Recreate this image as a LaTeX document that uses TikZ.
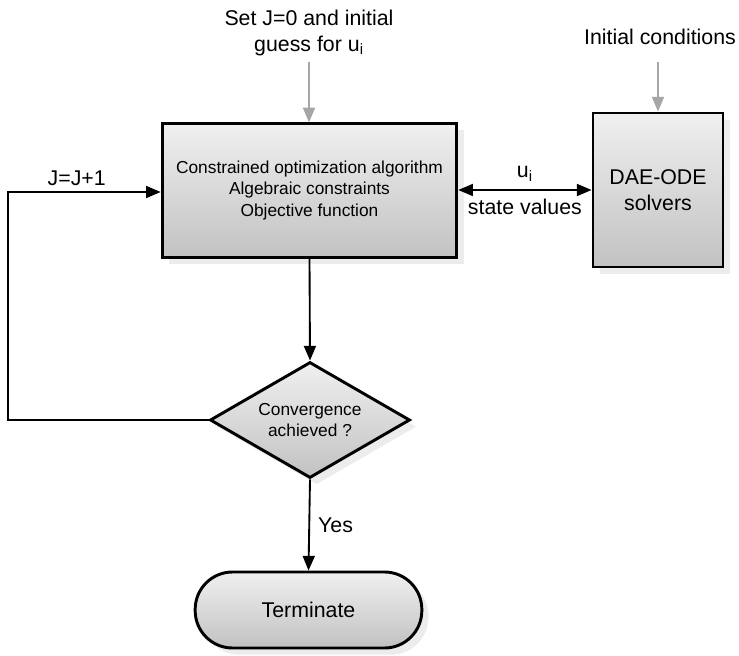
\documentclass[tikz,border=0pt]{standalone}
\usepackage{fontspec}
\setmainfont{Liberation Sans}
\usetikzlibrary{arrows.meta,shapes.geometric,shadows}

\begin{document}
\begin{tikzpicture}[
    x=0.75pt, y=-0.75pt,
    block/.style={draw=black, line width=2.2pt, top color=gray!12, bottom color=gray!48,
        drop shadow={shadow xshift=5pt, shadow yshift=-5pt, fill=gray!25, opacity=0.6},
        align=center, inner sep=2pt},
    txt/.style={font=\fontsize{16}{19}\selectfont, align=center, inner sep=1pt},
    arr/.style={-{Triangle[length=11pt, width=9pt]}, line width=1.4pt, black},
    in-arr/.style={-{Triangle[length=11pt, width=9pt]}, line width=1.4pt, gray!70}
]
    \useasboundingbox (0,0) rectangle (739,656);

    % Main optimization block
    \node[block, minimum width=221pt, minimum height=100pt,
          font=\fontsize{13}{15.8}\selectfont] (opt) at (309.5,190.5)
        {Constrained optimization algorithm\\Algebraic constraints\\Objective function};

    % Solver block
    \node[block, minimum width=97.5pt, minimum height=115.5pt,
          font=\fontsize{16}{19.5}\selectfont] (solver) at (658,190)
        {DAE-ODE\\solvers};

    % Decision and end
    \node[block, diamond, minimum width=150pt, minimum height=87pt, inner sep=0pt,
          aspect=1.72, font=\fontsize{13}{15.8}\selectfont] (conv) at (310,420)
        {Convergence\\achieved ?};
    \node[block, rounded corners=28pt, minimum width=170pt, minimum height=57pt,
          font=\fontsize{16}{19}\selectfont] (term) at (308.5,610)
        {Terminate};

    % Inputs
    \node[txt] (init) at (309,33) {Set J=0 and initial\\guess for u\textsubscript{i}};
    \node[txt] (ic) at (660,37) {Initial conditions};
    \coordinate (initb) at (309,62);
    \coordinate (icb) at (658,62);
    \draw[in-arr] (initb) -- (opt.north -| initb);
    \draw[in-arr] (icb) -- (solver.north);

    % Exchange between blocks
    \draw[{Triangle[length=11pt, width=9pt]}-{Triangle[length=11pt, width=9pt]}, line width=1.4pt]
        (opt.east |- solver.west) -- (solver.west)
        node[txt, midway, above=5pt] (ui) {u\textsubscript{i}}
        node[txt, midway, below=5pt] (sv) {state values};

    % Flow
    \draw[arr] (opt.south) -- (conv.north);
    \draw[arr] (conv.south) -- (term.north)
        node[txt, midway, right=5pt] (yes) {Yes};

    % Loop back
    \coordinate (lb) at (8,420);
    \coordinate (lt) at (8,192);
    \draw[arr] (conv.west) -- (lb) -- (lt) -- (opt.west |- lt)
        node[txt, pos=0.45, above=3pt] (inc) {J=J+1};

\end{tikzpicture}
\end{document}
